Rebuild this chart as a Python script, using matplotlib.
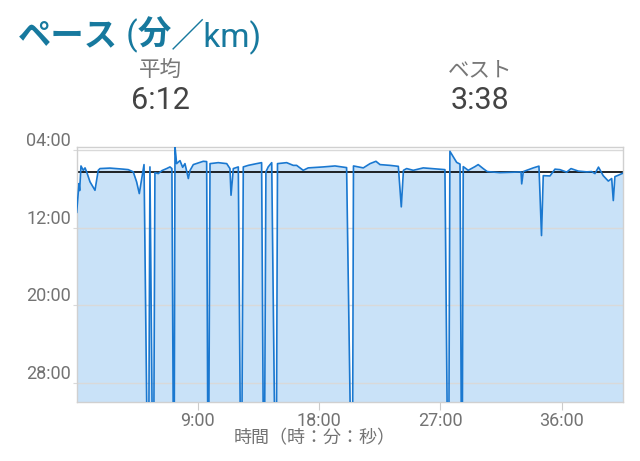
import numpy as np
import matplotlib
matplotlib.use("Agg")
import matplotlib.pyplot as plt

plt.rcParams['font.family'] = ['Roboto', 'Noto Sans CJK JP', 'DejaVu Sans']

# elapsed time (min) and pace (min/km); 45 = pause drops off the bottom
t = [0.00, 0.10, 0.17, 0.22, 0.32, 0.49, 0.62, 0.74, 0.99, 1.36,
     1.60, 1.73, 2.47, 3.46, 3.83, 4.20, 4.45, 4.65, 4.83, 5.00,
     5.32, 5.44, 5.69, 5.81, 6.06, 6.33, 6.68, 6.93, 7.07, 7.22,
     7.30, 7.42, 7.67, 7.87, 8.04, 8.29, 8.41, 8.66, 9.40, 9.65,
     9.77, 9.90, 10.51, 11.14, 11.38, 11.46, 11.63, 12.00, 12.22, 12.37,
     12.74, 13.36, 13.73, 13.91, 14.05, 14.22, 14.48, 14.80, 14.91, 15.59,
     16.08, 16.33, 16.82, 17.19, 18.31, 19.18, 20.04, 20.46, 20.55, 21.28,
     21.78, 22.22, 22.52, 23.26, 23.88, 24.10, 24.26, 24.50, 24.99, 25.73,
     27.34, 27.60, 27.71, 28.21, 28.46, 28.60, 28.70, 29.07, 29.57, 29.81,
     30.18, 30.48, 31.42, 32.53, 32.99, 33.04, 33.16, 33.90, 34.32, 34.51,
     34.64, 35.14, 35.51, 35.88, 36.38, 36.70, 37.24, 37.86, 38.23, 38.48,
     38.74, 39.09, 39.47, 39.72, 39.84, 39.96, 40.21, 40.53]
pace = [10.40, 8.68, 7.44, 8.16, 5.62, 6.07, 5.82, 6.23, 7.26, 8.13,
        6.07, 5.89, 5.84, 5.95, 6.00, 6.23, 7.26, 8.47, 6.92, 5.48,
        45, 5.72, 45, 6.31, 6.41, 6.10, 5.89, 5.72, 5.89, 45,
        3.63, 5.38, 5.07, 5.76, 5.38, 6.92, 6.10, 5.48, 5.14, 5.17,
        45, 5.38, 5.28, 5.38, 5.89, 8.64, 5.89, 5.72, 45, 5.72,
        5.56, 5.38, 5.28, 45, 6.23, 5.72, 5.28, 45, 5.38, 5.28,
        5.56, 5.56, 6.07, 5.82, 5.72, 5.62, 5.79, 45, 5.62, 5.82,
        5.38, 5.14, 5.48, 5.56, 5.66, 9.84, 6.07, 5.89, 6.07, 5.82,
        6.00, 45, 4.11, 5.25, 5.43, 45, 5.69, 6.07, 5.69, 5.48,
        5.89, 6.20, 6.31, 6.26, 6.23, 7.47, 6.20, 5.82, 5.64, 12.80,
        6.62, 6.65, 5.95, 6.00, 6.26, 5.89, 6.15, 6.23, 6.20, 6.41,
        5.74, 6.62, 7.18, 6.92, 9.19, 6.72, 6.58, 6.38]

avg_pace = 6.2      # 6:12
best_pace = 3.633   # 3:38
y_ticks = [4, 12, 20, 28]
y_labels = ["04:00", "12:00", "20:00", "28:00"]
x_ticks = [9, 18, 27, 36]
x_labels = ["9:00", "18:00", "27:00", "36:00"]

fig = plt.figure(figsize=(6.4, 4.61), dpi=100)
ax = fig.add_axes([0.1198, 0.1273, 0.853, 0.5545])

ax.fill_between(t, pace, 30, color='#c9e2f8', lw=0, zorder=1)
ax.axhline(avg_pace, color='black', lw=1.2, zorder=2)
ax.plot(t, pace, color='#1a78d0', lw=1.2, zorder=3)

ax.set_xlim(0, t[-1])
ax.set_ylim(30, best_pace)

ax.set_yticks(y_ticks)
ax.set_yticklabels(y_labels)
ax.set_xticks(x_ticks)
ax.set_xticklabels(x_labels)
ax.grid(axis='y', color='#d9d9d9', lw=1)
ax.tick_params(axis='y', length=3, color='#d9d9d9', pad=1, labelsize=13, labelcolor='#737373')
ax.tick_params(axis='x', length=6, color='#cccccc', pad=1, labelsize=13, labelcolor='#737373')
for lab in ax.get_yticklabels():
    lab.set_va('bottom')
for s in ax.spines.values():
    s.set_color('#d0d0d0')
    s.set_linewidth(1)

ax.set_xlabel("時間（時：分：秒）", fontsize=13, color='#737373',
              family=['Noto Sans CJK JP'])
ax.xaxis.set_label_coords(0.436, -0.105)

# header
r = fig.canvas.get_renderer()
x = 18
for s, w in [("ペース", "bold"), (" (", "normal"), ("分", "bold"), ("／km)", "normal")]:
    txt = fig.text(x / 640, 0.922, s, fontsize=24, weight=w, color='#17799e',
                   va='center', ha='left', family=['Roboto', 'Noto Sans CJK JP'])
    x = txt.get_window_extent(r).x1

fig.text(0.25, 0.848, "平均", fontsize=15.5, color='#777777', ha='center', va='center',
         family=['Noto Sans CJK JP'])
fig.text(0.25, 0.783, "6:12", fontsize=22, color='#444444', ha='center', va='center')
fig.text(0.75, 0.848, "ベスト", fontsize=15.5, color='#777777', ha='center', va='center',
         family=['Noto Sans CJK JP'])
fig.text(0.75, 0.783, "3:38", fontsize=22, color='#444444', ha='center', va='center')

fig.savefig("out.png", dpi=100)
